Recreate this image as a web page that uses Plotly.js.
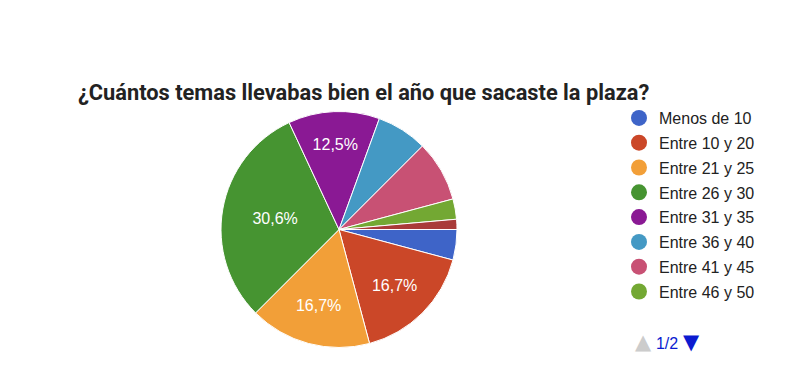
<!DOCTYPE html>
<html>
<head>
<meta charset="utf-8">
<script src="https://cdn.plot.ly/plotly-3.0.1.min.js"></script>
<style>html,body{margin:0;padding:0;background:#fff;}#chart{width:806px;height:366px;}</style>
</head>
<body>
<div id="chart"></div>
<script>
// Data (counts; total 72 responses)
const categories = ["Menos de 10", "Entre 10 y 20", "Entre 21 y 25", "Entre 26 y 30", "Entre 31 y 35", "Entre 36 y 40", "Entre 41 y 45", "Entre 46 y 50", "Más de 50"];
const counts = [3, 12, 12, 22, 9, 5, 6, 2, 1];
const colors = ["#3e64c8", "#cb4728", "#f29f38", "#469431", "#8a1994", "#4499c4", "#c85174", "#73a833", "#a93b39"];
const legendPageSize = 8;
const pageLabel = "1/2";
const chartTitle = "¿Cuántos temas llevabas bien el año que sacaste la plaza?";

const total = counts.reduce((a, b) => a + b, 0);
const textTemplates = counts.map(v => (v / total >= 0.1 ? "%{percent:.1%}" : ""));

const pie = {
  type: "pie",
  labels: categories,
  values: counts,
  sort: false,
  direction: "clockwise",
  rotation: 90,
  marker: { colors: colors, line: { color: "#ffffff", width: 1 } },
  texttemplate: textTemplates,
  textposition: "inside",
  insidetextorientation: "horizontal",
  textfont: { family: "Liberation Sans, Arial, sans-serif", size: 16, color: "#ffffff" },
  hoverinfo: "label+percent",
  showlegend: false,
  domain: { x: [0.2742, 0.5670], y: [0.0492, 0.6967] }
};

const legendTraces = categories.slice(0, legendPageSize).map((c, i) => ({
  type: "scatter",
  mode: "markers",
  x: [null], y: [null],
  name: c,
  legendgroup: "g" + i,
  marker: { color: colors[i], size: 16, symbol: "circle" },
  hoverinfo: "skip"
}));

const layout = {
  width: 806, height: 366,
  margin: { l: 0, r: 0, t: 0, b: 0 },
  paper_bgcolor: "#ffffff",
  plot_bgcolor: "#ffffff",
  separators: ",.",
  title: {
    text: "<b>" + chartTitle + "</b>",
    x: 78 / 806, xref: "container", xanchor: "left",
    y: 1 - 92 / 366, yref: "container", yanchor: "middle",
    font: { family: "Roboto, Arial, sans-serif", size: 21.8, color: "#222222" }
  },
  xaxis: { visible: false, domain: [0.99, 1] },
  yaxis: { visible: false, domain: [0.99, 1] },
  showlegend: true,
  legend: {
    x: 619 / 806, xanchor: "left",
    y: 1 - 101 / 366, yanchor: "top",
    font: { family: "Liberation Sans, Arial, sans-serif", size: 16, color: "#222222" },
    tracegroupgap: 1,
    itemwidth: 30,
    bgcolor: "rgba(0,0,0,0)"
  },
  annotations: [{
    xref: "paper", yref: "paper",
    x: 633 / 806, xanchor: "left",
    y: 1 - 342 / 366, yanchor: "middle",
    showarrow: false,
    text: '<span style="color:#cccccc;font-size:21px">▲</span> <span style="font-family:Liberation Sans, Arial, sans-serif;font-size:16px">' + pageLabel + '</span> <span style="color:#0b1bd0;font-size:21px">▼</span>',
    font: { family: "DejaVu Sans, Liberation Sans, sans-serif", size: 15, color: "#0b1bd0" }
  }]
};

Plotly.newPlot("chart", [pie].concat(legendTraces), layout, { displayModeBar: false, staticPlot: true });
</script>
</body>
</html>
